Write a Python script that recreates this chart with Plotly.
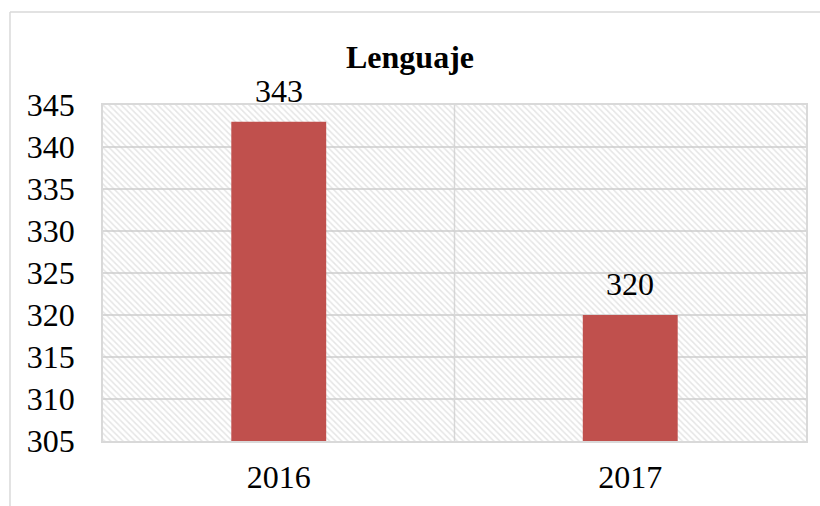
import plotly.graph_objects as go

categories = ["2016", "2017"]
values = [343, 320]
y_min, y_max, y_step = 305, 345, 5
title_text = "Lenguaje"

bar_color = "#C0504D"
grid_color = "#D9D9D9"
font_family = "Liberation Serif, Times New Roman, serif"
fs = 32

xs = list(range(len(categories)))

fig = go.Figure()

# hatched plot-area background
fig.add_trace(go.Bar(
    x=[(len(categories) - 1) / 2], y=[y_max - y_min], base=[y_min],
    width=[len(categories)],
    marker=dict(color="rgba(0,0,0,0)", line=dict(width=0),
                pattern=dict(shape="\\", fgcolor="#CCCCCC", bgcolor="rgba(0,0,0,0)",
                             size=4.3, solidity=0.35)),
    hoverinfo="skip", showlegend=False,
))

fig.add_trace(go.Bar(
    x=xs, y=[v - y_min for v in values], base=[y_min] * len(values),
    width=0.27, marker=dict(color=bar_color, line=dict(width=0)),
    showlegend=False,
))

for i, v in zip(xs, values):
    fig.add_annotation(x=i, y=v, text=str(v), showarrow=False,
                       yanchor="bottom", yshift=11,
                       font=dict(family=font_family, size=fs, color="#000000"))

# vertical category separators
for i in range(1, len(categories)):
    fig.add_shape(type="line", x0=i - 0.5, x1=i - 0.5, y0=y_min, y1=y_max,
                  xref="x", yref="y", line=dict(color=grid_color, width=1.5), layer="below")

# outer chart border (left and top edges visible in the crop)
bx0, by1 = -0.1323, 1.277
fig.add_shape(type="line", xref="paper", yref="paper", x0=bx0, x1=bx0, y0=-0.4, y1=by1,
              line=dict(color=grid_color, width=1.5))
fig.add_shape(type="line", xref="paper", yref="paper", x0=bx0, x1=1.2, y0=by1, y1=by1,
              line=dict(color=grid_color, width=1.5))

fig.update_layout(
    width=820, height=506,
    margin=dict(l=103, r=14, t=105, b=65, autoexpand=False),
    paper_bgcolor="white", plot_bgcolor="white",
    barmode="overlay",
    title=dict(text="<b>" + title_text + "</b>", x=0.5, xanchor="center",
               y=1 - 57 / 506, yanchor="middle",
               font=dict(family=font_family, size=fs, color="#000000")),
    font=dict(family=font_family, size=fs, color="#000000"),
    xaxis=dict(range=[-0.5, len(categories) - 0.5], tickvals=xs, ticktext=categories,
               showgrid=False, zeroline=False, showline=True, linecolor=grid_color,
               linewidth=1.5, mirror=True, ticks="", ticklabelstandoff=7,
               automargin=False,
               tickfont=dict(family=font_family, size=fs, color="#000000")),
    yaxis=dict(range=[y_min, y_max], dtick=y_step, tick0=y_min, showgrid=True,
               gridcolor=grid_color, gridwidth=1.5, zeroline=False, showline=True,
               linecolor=grid_color, linewidth=1.5, mirror=True, ticks="",
               ticklabelstandoff=20, automargin=False,
               tickfont=dict(family=font_family, size=fs, color="#000000")),
)

fig.write_html("out.html", config={"displayModeBar": False},
               post_script="document.body.style.margin='0';document.body.style.overflow='hidden';")
